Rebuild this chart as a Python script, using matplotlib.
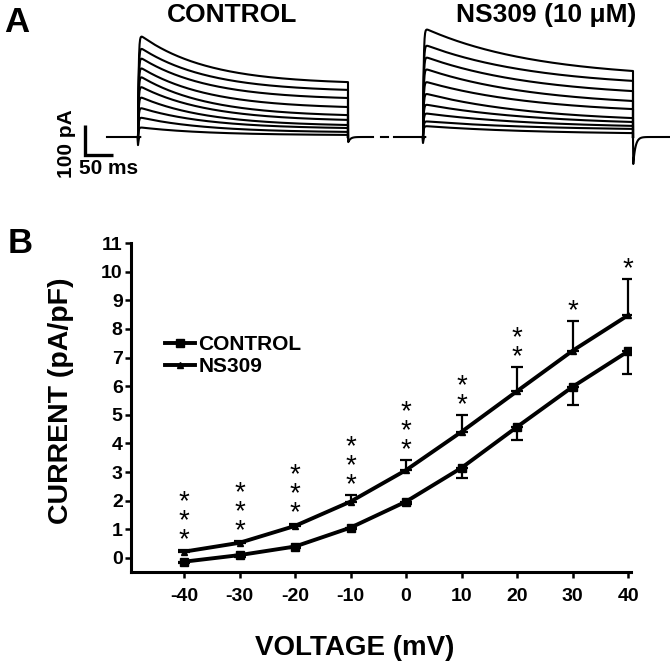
import numpy as np
import matplotlib
matplotlib.use("Agg")
import matplotlib.pyplot as plt

plt.rcParams['font.family'] = ['Liberation Sans', 'DejaVu Sans']
plt.rcParams['font.weight'] = 'bold'

# ---------------- data: panel B (I-V relationship) ----------------
voltages = [-40, -30, -20, -10, 0, 10, 20, 30, 40]
control_mean = [-0.13, 0.10, 0.40, 1.06, 1.97, 3.15, 4.58, 5.98, 7.22]
control_sem = [0.05, 0.05, 0.06, 0.06, 0.10, 0.36, 0.46, 0.64, 0.78]
ns309_mean = [0.22, 0.53, 1.12, 1.97, 3.07, 4.41, 5.83, 7.24, 8.48]
ns309_sem = [0.06, 0.06, 0.08, 0.23, 0.35, 0.58, 0.83, 1.02, 1.26]
significance = ['***', '***', '***', '***', '***', '**', '**', '*', '*']
y_ticks = list(range(0, 12))

# ---------------- data: panel A (current traces, pA) ----------------
control_peak = [345, 303, 270, 237, 207, 173, 137, 100, 67, 33]
control_end = [183, 157, 130, 100, 73, 57, 40, 30, 17, 7]
ns309_peak = [365, 310, 270, 230, 187, 147, 110, 80, 53, 37]
ns309_end = [220, 187, 153, 120, 93, 63, 50, 37, 27, 13]
step_duration_ms = 375
control_tau_ms = 120
ns309_tau_ms = 200
control_onset_dip, control_offset_dip = -27, -17
ns309_onset_dip, ns309_offset_dip = -20, -90

W, H = 670, 666
fig = plt.figure(figsize=(W / 100, H / 100), dpi=100)

def fx(px):
    return px / W

def fy(py):
    return 1 - py / H

# ================= Panel A =================
MS_PER_PX = 50 / 28
PA_PER_PX = 100 / 30
BASE_PY = 137
axA = fig.add_axes([0, fy(200), 1, 200 / H])
axA.set_xlim(0, W * MS_PER_PX)
axA.set_ylim((BASE_PY - 200) * PA_PER_PX, BASE_PY * PA_PER_PX)
axA.axis('off')

def trace_family(t0, peaks, ends, tau, pre_start, post_end, dip_on, dip_off):
    T = step_duration_ms
    t = np.linspace(0, T, 800)
    for pk, en in zip(peaks, ends):
        decay = (np.exp(-t / tau) - np.exp(-T / tau)) / (1 - np.exp(-T / tau))
        cur = (en + (pk - en) * decay) * (1 - np.exp(-t / 1.2))
        axA.plot(np.concatenate([[t0], t0 + t, [t0 + T]]),
                 np.concatenate([[0], cur, [0]]), color='black', lw=1.5,
                 solid_joinstyle='round')
    # baseline with capacitive transients
    axA.plot([pre_start, t0 - 1, t0, t0 + 2, t0 + 4], [0, 0, dip_on, 0, 0],
             color='black', lw=1.5)
    tt = np.linspace(0, 30, 60)
    tail = dip_off * np.exp(-tt / 4.0)
    axA.plot(np.concatenate([[t0 + T], t0 + T + 0.5 + tt, [post_end]]),
             np.concatenate([[0], tail, [0]]), color='black', lw=1.5)

c_on = 138 * MS_PER_PX
n_on = 423 * MS_PER_PX
trace_family(c_on, control_peak, control_end, control_tau_ms,
             107 * MS_PER_PX, 373 * MS_PER_PX, control_onset_dip, control_offset_dip)
trace_family(n_on, ns309_peak, ns309_end, ns309_tau_ms,
             394 * MS_PER_PX, 670 * MS_PER_PX, ns309_onset_dip, ns309_offset_dip)
axA.plot([381 * MS_PER_PX, 388 * MS_PER_PX], [0, 0], color='black', lw=1.5)

# scale bar (100 pA, 50 ms)
sb_x = 85 * MS_PER_PX
sb_y = (BASE_PY - 155) * PA_PER_PX
axA.plot([sb_x, sb_x, sb_x + 50], [sb_y + 100, sb_y, sb_y], color='black',
         lw=2.4, solid_joinstyle='miter', solid_capstyle='butt')

fig.text(fx(66), fy(144), '100 pA', rotation=90, ha='center', va='center',
         fontsize=15, fontweight='bold')
fig.text(fx(109), fy(168), '50 ms', ha='center', va='center',
         fontsize=15, fontweight='bold')
fig.text(fx(232), fy(15), 'CONTROL', ha='center', va='center',
         fontsize=19, fontweight='bold')
fig.text(fx(546), fy(15), 'NS309 (10 μM)', ha='center', va='center',
         fontsize=19, fontweight='bold')
fig.text(fx(17), fy(22), 'A', ha='center', va='center', fontsize=25,
         fontweight='bold')
fig.text(fx(20), fy(243), 'B', ha='center', va='center', fontsize=25,
         fontweight='bold')

# ================= Panel B =================
axB = fig.add_axes([fx(131), fy(572), 500 / W, (572 - 243) / H])
axB.set_xlim(-49.55, 40.5)
axB.set_ylim(-0.49, 11)

v = np.array(voltages)
cm = np.array(control_mean)
cs = np.array(control_sem)
nm = np.array(ns309_mean)
ns = np.array(ns309_sem)

axB.errorbar(v, nm, yerr=[np.zeros_like(ns), ns], fmt='none', ecolor='black',
             elinewidth=1.6, capsize=4, capthick=1.6, zorder=2)
axB.errorbar(v, cm, yerr=[cs, np.zeros_like(cs)], fmt='none', ecolor='black',
             elinewidth=1.6, capsize=4, capthick=1.6, zorder=2)
axB.plot(v, cm, color='black', lw=2.8, marker='s', markersize=6, zorder=3,
         label='CONTROL')
axB.plot(v, nm, color='black', lw=2.8, marker='^', markersize=5, zorder=3,
         label='NS309')

# significance stars above NS309 error bars (one stacked text per voltage)
for xv, top, sig in zip(v, nm + ns, significance):
    axB.annotate('\n'.join(sig), xy=(xv, top), xytext=(0, -2),
                 textcoords='offset points', ha='center', va='bottom',
                 fontsize=20, fontweight='normal', linespacing=0.65)

for side in ['top', 'right']:
    axB.spines[side].set_visible(False)
for side in ['left', 'bottom']:
    axB.spines[side].set_linewidth(2.2)
axB.set_xticks(voltages)
axB.set_xticklabels([str(x) for x in voltages])
axB.set_yticks(y_ticks)
axB.set_yticklabels([str(y) for y in y_ticks])
axB.tick_params(axis='both', direction='out', length=4.5, width=1.8,
                labelsize=14)
axB.tick_params(axis='x', pad=7)
axB.tick_params(axis='y', pad=1.5)
for lbl in axB.get_xticklabels() + axB.get_yticklabels():
    lbl.set_fontweight('bold')

fig.text(fx(61), fy(401), 'CURRENT (pA/pF)', rotation=90, ha='center',
         va='center', fontsize=20.5, fontweight='bold')
fig.text(fx(355), fy(648), 'VOLTAGE (mV)', ha='center', va='center',
         fontsize=20, fontweight='bold')

leg = axB.legend(loc='upper left', bbox_to_anchor=(fx(165), fy(335)),
                 bbox_transform=fig.transFigure, frameon=False, fontsize=15,
                 handlelength=1.45, handletextpad=0.15, borderpad=0,
                 labelspacing=0.15, borderaxespad=0)
for t in leg.get_texts():
    t.set_fontweight('bold')

fig.savefig('out.png', dpi=100)
